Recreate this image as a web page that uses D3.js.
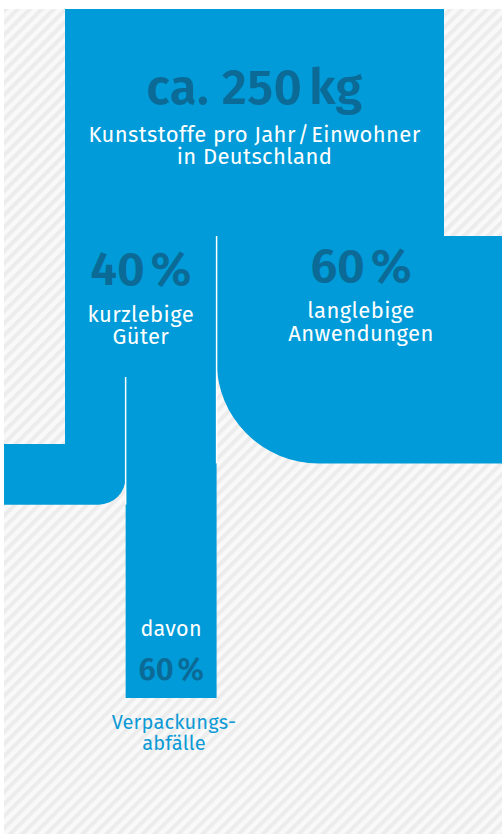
<!DOCTYPE html>
<html>
<head>
<meta charset="utf-8">
<script src="https://cdn.jsdelivr.net/npm/d3@7"></script>
<style>
  html, body { margin: 0; padding: 0; background: #ffffff; }
  svg { display: block; }
  text { font-family: "Fira Sans", "Noto Sans", "Open Sans", sans-serif; }
</style>
</head>
<body>
<svg id="chart" width="502" height="834"></svg>
<script>
// Plastics flow per inhabitant in Germany
const totalKg = 250;
const totalLabel = ["ca. 250\u202Fkg"];
const totalCaption = ["Kunststoffe pro Jahr\u200A/\u200AEinwohner", "in Deutschland"];
const categories = ["kurzlebige Güter", "langlebige Anwendungen"];
const shareValues = [40, 60];              // % of total
const shareLabels = ["40\u202F%", "60\u202F%"];
const categoryLines = [["kurzlebige", "Güter"], ["langlebige", "Anwendungen"]];
const packagingShare = [60];               // % of short-lived goods
const packagingLabels = ["davon", "60\u202F%"];
const packagingCaption = ["Verpackungs-", "abfälle"];

const W = 502, H = 834;
const BLUE = "#009bd8", DARK = "#0b6a96", TEXTBLUE = "#0c9ad6";

const svg = d3.select("#chart");

// hatched backdrop
const defs = svg.append("defs");
const pat = defs.append("pattern")
  .attr("id", "hatch").attr("patternUnits", "userSpaceOnUse")
  .attr("width", 8.5).attr("height", 8.5)
  .attr("patternTransform", "rotate(45)");
pat.append("rect").attr("width", 8.5).attr("height", 8.5).attr("fill", "#f9f9f9");
pat.append("rect").attr("x", 0).attr("width", 4).attr("height", 8.5).attr("fill", "#ececec");

const frame = { x0: 4, y0: 9, x1: W, y1: H };
svg.append("rect")
  .attr("x", frame.x0).attr("y", frame.y0)
  .attr("width", frame.x1 - frame.x0).attr("height", frame.y1 - frame.y0)
  .attr("fill", "url(#hatch)");

// band width in px for a share (in % of the total)
const w = d3.scaleLinear().domain([0, 100]).range([0, 379]);

const xLeft = 65;
const ySplit = 236, yTurnShort = 444, ySubSplit = 377, yPackEnd = 698;
const wShort = w(shareValues[0]);
const wLong = w(shareValues[1]);
const wPack = w(shareValues[0] * packagingShare[0] / 100);
const wOther = wShort - wPack;
const xMid = xLeft + wShort;
const xPack = xMid - wPack;

const g = svg.append("g").attr("fill", BLUE);

// total stream
g.append("rect").attr("x", xLeft).attr("y", frame.y0)
  .attr("width", wShort + wLong).attr("height", ySplit - frame.y0);

// long-lived: turns right and leaves the frame
const rL = 102;
g.append("path").attr("d", [
  "M", xMid, ySplit, "H", frame.x1, "V", ySplit + wLong,
  "H", xMid + rL, "A", rL, rL, 0, 0, 1, xMid, ySplit + wLong - rL, "Z"
].join(" "));

// short-lived goods: vertical part
g.append("rect").attr("x", xLeft).attr("y", ySplit)
  .attr("width", wShort).attr("height", yTurnShort - ySplit);

// remainder turns left
const rS = 27;
g.append("path").attr("d", [
  "M", frame.x0, yTurnShort, "H", xPack, "V", yTurnShort + wOther - rS,
  "A", rS, rS, 0, 0, 1, xPack - rS, yTurnShort + wOther, "H", frame.x0, "Z"
].join(" "));

// packaging waste column
g.append("rect").attr("x", xPack).attr("y", yTurnShort - 1)
  .attr("width", wPack).attr("height", yPackEnd - yTurnShort + 1);

// thin separators between the split streams
svg.append("line").attr("x1", xMid).attr("x2", xMid)
  .attr("y1", ySplit).attr("y2", ySplit + wLong)
  .attr("stroke", "#ffffff").attr("stroke-width", 1.5);
svg.append("line").attr("x1", xPack).attr("x2", xPack)
  .attr("y1", ySubSplit).attr("y2", yTurnShort + wOther)
  .attr("stroke", "#ffffff").attr("stroke-width", 1.5);

// labels
function label(x, y, txt, size, weight, fill, spacing) {
  svg.append("text").attr("x", x).attr("y", y)
    .attr("text-anchor", "middle")
    .attr("font-size", size).attr("font-weight", weight)
    .attr("letter-spacing", spacing || 0)
    .attr("fill", fill).text(txt);
}

const cxTop = xLeft + (wShort + wLong) / 2;
label(cxTop, 104, totalLabel[0], 49, 600, DARK, 0.5);
label(cxTop, 142, totalCaption[0], 22, 400, "#ffffff", 0.4);
label(cxTop, 164, totalCaption[1], 22, 400, "#ffffff", 0.4);

const cxShort = xLeft + wShort / 2;
label(cxShort, 285, shareLabels[0], 48, 600, DARK);
label(cxShort, 322, categoryLines[0][0], 22, 400, "#ffffff", 0.4);
label(cxShort, 344, categoryLines[0][1], 22, 400, "#ffffff", 0.4);

const cxLong = 361;
label(cxLong, 282, shareLabels[1], 48, 600, DARK);
label(cxLong, 318, categoryLines[1][0], 22, 400, "#ffffff", 0.4);
label(cxLong, 341, categoryLines[1][1], 22, 400, "#ffffff", 0.4);

const cxPack = xPack + wPack / 2;
label(cxPack, 636, packagingLabels[0], 21.5, 400, "#ffffff", 0.3);
label(cxPack, 680, packagingLabels[1], 31, 600, DARK);
label(174, 729, packagingCaption[0], 20, 400, TEXTBLUE, 0.2);
label(174, 750, packagingCaption[1], 20, 400, TEXTBLUE, 0.2);
</script>
</body>
</html>
